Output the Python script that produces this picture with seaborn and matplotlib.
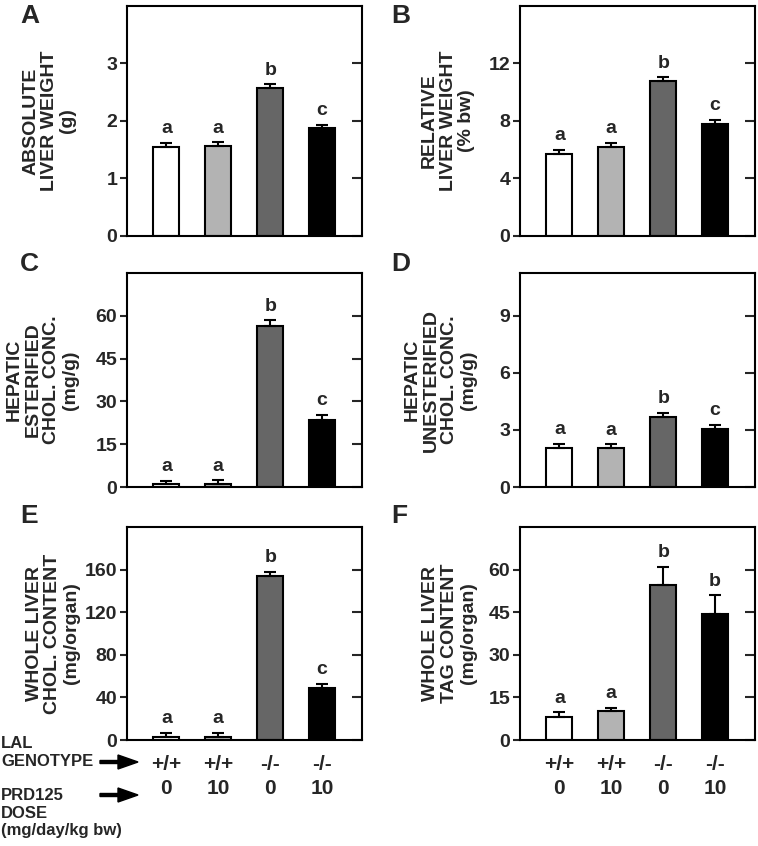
import numpy as np
import pandas as pd
import matplotlib
matplotlib.use("Agg")
import matplotlib.pyplot as plt
from matplotlib.patches import FancyArrow
import seaborn as sns

# groups (LAL genotype / PRD125 dose)
groups = ["WT-0", "WT-10", "KO-0", "KO-10"]
genotype = ["+/+", "+/+", "-/-", "-/-"]
dose = ["0", "10", "0", "10"]
bar_colors = ["#ffffff", "#b3b3b3", "#666666", "#000000"]

# panel data: means, SEM, significance letters
abs_liver = [1.55, 1.57, 2.57, 1.87]
abs_liver_err = [0.07, 0.06, 0.07, 0.06]
abs_liver_sig = ["a", "a", "b", "c"]

rel_liver = [5.7, 6.2, 10.75, 7.8]
rel_liver_err = [0.28, 0.28, 0.28, 0.3]
rel_liver_sig = ["a", "a", "b", "c"]

ester_chol = [1.1, 0.95, 56.6, 23.5]
ester_chol_err = [1.0, 1.4, 1.8, 1.8]
ester_chol_sig = ["a", "a", "b", "c"]

unester_chol = [2.05, 2.04, 3.67, 3.05]
unester_chol_err = [0.23, 0.21, 0.22, 0.23]
unester_chol_sig = ["a", "a", "b", "c"]

whole_chol = [3.1, 3.1, 154, 49]
whole_chol_err = [3.8, 3.8, 4.0, 3.8]
whole_chol_sig = ["a", "a", "b", "c"]

whole_tag = [8.2, 10.1, 54.6, 44.3]
whole_tag_err = [1.5, 1.2, 6.4, 6.7]
whole_tag_sig = ["a", "a", "b", "b"]

sns.set_theme(style="ticks")
plt.rcParams["font.family"] = ["Liberation Sans", "DejaVu Sans"]
plt.rcParams["font.weight"] = "bold"

W, H = 758, 846
fig = plt.figure(figsize=(W / 100, H / 100), dpi=100)


def make_ax(left, top, right, bottom):
    return fig.add_axes([left / W, 1 - bottom / H, (right - left) / W, (bottom - top) / H])


panels = [
    ("A", make_ax(127, 6, 362, 236), abs_liver, abs_liver_err, abs_liver_sig,
     "ABSOLUTE\nLIVER WEIGHT\n(g)", 4, [0, 1, 2, 3], -0.215),
    ("B", make_ax(520, 6, 755, 236), rel_liver, rel_liver_err, rel_liver_sig,
     "RELATIVE\nLIVER WEIGHT\n(% bw)", 16, [0, 4, 8, 12], -0.19),
    ("C", make_ax(127, 273, 362, 487), ester_chol, ester_chol_err, ester_chol_sig,
     "HEPATIC\nESTERIFIED\nCHOL. CONC.\n(mg/g)", 75, [0, 15, 30, 45, 60], -0.205),
    ("D", make_ax(520, 273, 755, 487), unester_chol, unester_chol_err, unester_chol_sig,
     "HEPATIC\nUNESTERIFIED\nCHOL. CONC.\n(mg/g)", 11.25, [0, 3, 6, 9], -0.185),
    ("E", make_ax(127, 527, 362, 740), whole_chol, whole_chol_err, whole_chol_sig,
     "WHOLE LIVER\nCHOL. CONTENT\n(mg/organ)", 200, [0, 40, 80, 120, 160], -0.2),
    ("F", make_ax(520, 527, 755, 740), whole_tag, whole_tag_err, whole_tag_sig,
     "WHOLE LIVER\nTAG CONTENT\n(mg/organ)", 75, [0, 15, 30, 45, 60], -0.185),
]

letter_pos = {"A": (20, 4), "B": (391, 4), "C": (20, 252), "D": (391, 252),
              "E": (20, 504), "F": (391, 504)}

for letter, ax, vals, errs, sig, ylab, ymax, yticks, lab_x in panels:
    df = pd.DataFrame({"group": groups, "value": vals})
    sns.barplot(data=df, x="group", y="value", hue="group", palette=bar_colors,
                width=0.5, edgecolor="black", linewidth=1.5, legend=False, ax=ax)
    pos = np.arange(len(groups))
    ax.errorbar(pos, vals, yerr=[np.zeros(len(errs)), errs], fmt="none",
                ecolor="black", elinewidth=1.5, capsize=4, capthick=1.5, zorder=1)
    for x, v, e, s in zip(pos, vals, errs, sig):
        ax.annotate(s, (x, v + e), xytext=(0, 4), textcoords="offset points",
                    ha="center", va="bottom", fontsize=14, fontweight="bold")
    ax.set_xlim(-0.76, 3.77)
    ax.set_ylim(0, ymax)
    ax.set_yticks(yticks)
    ax.set_yticklabels([str(t) for t in yticks], fontsize=14, fontweight="bold")
    ax.tick_params(axis="y", direction="out", length=5, width=1.5, pad=2)
    ax.tick_params(axis="x", length=0)
    sec = ax.secondary_yaxis("right")
    sec.set_yticks(yticks)
    sec.tick_params(direction="in", length=7, width=1.5, labelright=False)
    sec.spines["right"].set_visible(False)
    for sp in ax.spines.values():
        sp.set_visible(True)
        sp.set_linewidth(1.5)
        sp.set_color("black")
    ax.set_xlabel("")
    ax.set_ylabel(ylab, fontsize=14, fontweight="bold", linespacing=1.12)
    ax.yaxis.set_label_coords(lab_x, 0.5)
    if letter in ("E", "F"):
        ax.set_xticks(pos)
        ax.set_xticklabels([g + "\n" + d for g, d in zip(genotype, dose)],
                           fontsize=15, fontweight="bold")
        for t in ax.get_xticklabels():
            t.set_linespacing(1.3)
        ax.tick_params(axis="x", pad=11)
    else:
        ax.set_xticklabels([])
    lx, ly = letter_pos[letter]
    fig.text(lx / W, 1 - ly / H, letter, fontsize=19, fontweight="bold",
             ha="left", va="top")

# row labels for genotype / dose
fig.text(1 / W, 1 - 736 / H, "LAL\nGENOTYPE", fontsize=12, fontweight="bold",
         ha="left", va="top", linespacing=1.25)
fig.text(1 / W, 1 - 788 / H, "PRD125\nDOSE\n(mg/day/kg bw)", fontsize=12,
         fontweight="bold", ha="left", va="top", linespacing=1.22)
for yy in (762, 795):
    fig.add_artist(FancyArrow(100, H - yy, 38, 0, width=3, head_width=14,
                              head_length=20, length_includes_head=True,
                              color="black", transform=None))

fig.savefig("out.png", dpi=100)
